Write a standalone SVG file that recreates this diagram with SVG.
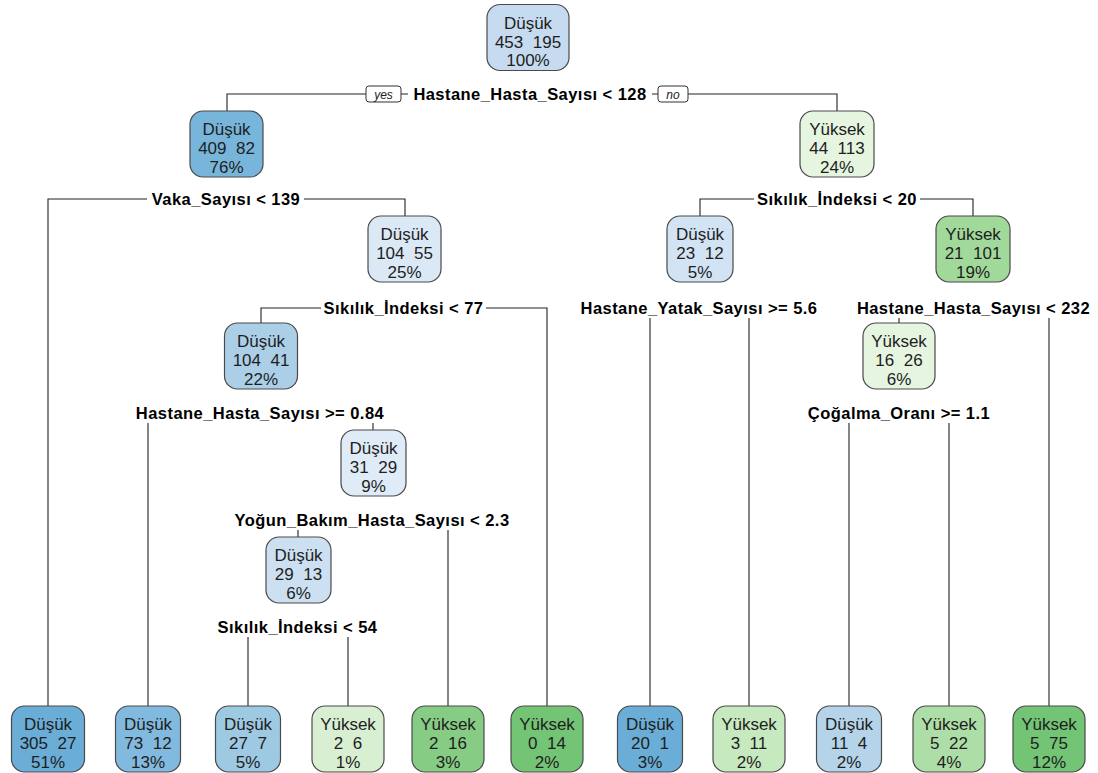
<svg xmlns="http://www.w3.org/2000/svg" width="1098" height="773" viewBox="0 0 1098 773">
<style>
.bg{fill:#ffffff}
.box{stroke:#4a4a4a;stroke-width:1.2}
.nt{font-family:"Liberation Sans",Arial,sans-serif;font-size:17px;fill:#1e1e1e;text-anchor:middle;white-space:pre}
.sl{font-family:"Liberation Sans",Arial,sans-serif;font-size:16.5px;letter-spacing:0.45px;font-weight:bold;fill:#000;text-anchor:middle}
.yn{font-family:"Liberation Sans",Arial,sans-serif;font-size:12px;font-style:italic;fill:#222;text-anchor:middle}
.ynb{fill:#fff;stroke:#333;stroke-width:1}
.c{fill:none;stroke:#222;stroke-width:1.1}
</style>
<rect class="bg" x="0" y="0" width="1098" height="773"/>
<g id="connectors">
<path class="c" d="M227,111 V94 H366 M401,94 H408 M652,94 H658 M688,94 H837 V111"/>
<path class="c" d="M48,706 V199 H147 M304,199 H405 V216"/>
<path class="c" d="M700,216 V199 H754 M920,199 H973 V216"/>
<path class="c" d="M261,323 V308 H321 M486,308 H547 V706"/>
<path class="c" d="M650,318 V706 M749,318 V706"/>
<path class="c" d="M899,318 V323 M1049,318 V706"/>
<path class="c" d="M148,423 V706 M373,423 V430"/>
<path class="c" d="M849,423 V706 M949,423 V706"/>
<path class="c" d="M298,530 V537 M448,530 V706"/>
<path class="c" d="M248,637 V706 M348,637 V706"/>
</g>
<g id="split-labels">
<g id="s1"><rect class="ynb" x="366" y="86" width="35" height="16" rx="3"/><text class="yn" x="383.5" y="98.5">yes</text>
<text class="sl" x="530" y="100">Hastane_Hasta_Sayısı &lt; 128</text>
<rect class="ynb" x="658" y="86" width="30" height="16" rx="3"/><text class="yn" x="673" y="98.5">no</text></g>
<text id="s2" class="sl" x="226" y="205">Vaka_Sayısı &lt; 139</text>
<text id="s3" class="sl" x="837" y="205">Sıkılık_İndeksi &lt; 20</text>
<text id="s5" class="sl" x="403.5" y="314">Sıkılık_İndeksi &lt; 77</text>
<text id="s6" class="sl" x="699" y="314">Hastane_Yatak_Sayısı &gt;= 5.6</text>
<text id="s7" class="sl" x="973.5" y="314">Hastane_Hasta_Sayısı &lt; 232</text>
<text id="s10" class="sl" x="260" y="419">Hastane_Hasta_Sayısı &gt;= 0.84</text>
<text id="s14" class="sl" x="899" y="419">Çoğalma_Oranı &gt;= 1.1</text>
<text id="s21" class="sl" x="372" y="526">Yoğun_Bakım_Hasta_Sayısı &lt; 2.3</text>
<text id="s42" class="sl" x="297.5" y="633">Sıkılık_İndeksi &lt; 54</text>
</g>
<g id="n1"><rect class="box" x="487" y="4.5" width="82" height="66" rx="13" fill="#c6dbef"/><text class="nt" x="528" y="28.5">Düşük</text><text class="nt" x="528" y="47.5">453  195</text><text class="nt" x="528" y="66">100%</text></g>
<g id="n2"><rect class="box" x="190" y="111" width="73" height="66" rx="13" fill="#78b5db"/><text class="nt" x="226.5" y="134.5">Düşük</text><text class="nt" x="226.5" y="153.5">409  82</text><text class="nt" x="226.5" y="172.5">76%</text></g>
<g id="n3"><rect class="box" x="800" y="111" width="74" height="66" rx="13" fill="#e5f5e0"/><text class="nt" x="837" y="134.5">Yüksek</text><text class="nt" x="837" y="153.5">44  113</text><text class="nt" x="837" y="172.5">24%</text></g>
<g id="n5"><rect class="box" x="368" y="216" width="73" height="66" rx="13" fill="#dbe9f6"/><text class="nt" x="404.5" y="239.5">Düşük</text><text class="nt" x="404.5" y="258.5">104  55</text><text class="nt" x="404.5" y="277.5">25%</text></g>
<g id="n6"><rect class="box" x="667" y="216" width="66" height="66" rx="13" fill="#d2e3f3"/><text class="nt" x="700" y="239.5">Düşük</text><text class="nt" x="700" y="258.5">23  12</text><text class="nt" x="700" y="277.5">5%</text></g>
<g id="n7"><rect class="box" x="936" y="216" width="74" height="66" rx="13" fill="#a1d99b"/><text class="nt" x="973" y="239.5">Yüksek</text><text class="nt" x="973" y="258.5">21  101</text><text class="nt" x="973" y="277.5">19%</text></g>
<g id="n10"><rect class="box" x="224.5" y="323" width="73" height="66" rx="13" fill="#abcfe6"/><text class="nt" x="261" y="346.5">Düşük</text><text class="nt" x="261" y="365.5">104  41</text><text class="nt" x="261" y="384.5">22%</text></g>
<g id="n14"><rect class="box" x="863" y="323" width="72" height="66" rx="13" fill="#e5f5e0"/><text class="nt" x="899" y="346.5">Yüksek</text><text class="nt" x="899" y="365.5">16  26</text><text class="nt" x="899" y="384.5">6%</text></g>
<g id="n21"><rect class="box" x="341" y="430" width="65" height="66" rx="13" fill="#dfebf7"/><text class="nt" x="373.5" y="453.5">Düşük</text><text class="nt" x="373.5" y="472.5">31  29</text><text class="nt" x="373.5" y="491.5">9%</text></g>
<g id="n42"><rect class="box" x="266" y="537" width="65" height="66" rx="13" fill="#cde0f1"/><text class="nt" x="298.5" y="560.5">Düşük</text><text class="nt" x="298.5" y="579.5">29  13</text><text class="nt" x="298.5" y="598.5">6%</text></g>
<g id="l1"><rect class="box" x="11.5" y="706" width="73" height="66" rx="13" fill="#6aadd6"/><text class="nt" x="48" y="729.5">Düşük</text><text class="nt" x="48" y="748.5">305  27</text><text class="nt" x="48" y="767.5">51%</text></g>
<g id="l2"><rect class="box" x="115.5" y="706" width="65" height="66" rx="13" fill="#82badf"/><text class="nt" x="148" y="729.5">Düşük</text><text class="nt" x="148" y="748.5">73  12</text><text class="nt" x="148" y="767.5">13%</text></g>
<g id="l3"><rect class="box" x="215.5" y="706" width="65" height="66" rx="13" fill="#9dc9e2"/><text class="nt" x="248" y="729.5">Düşük</text><text class="nt" x="248" y="748.5">27  7</text><text class="nt" x="248" y="767.5">5%</text></g>
<g id="l4"><rect class="box" x="312" y="706" width="72" height="66" rx="13" fill="#d8efd2"/><text class="nt" x="348" y="729.5">Yüksek</text><text class="nt" x="348" y="748.5">2  6</text><text class="nt" x="348" y="767.5">1%</text></g>
<g id="l5"><rect class="box" x="412" y="706" width="72" height="66" rx="13" fill="#86cc85"/><text class="nt" x="448" y="729.5">Yüksek</text><text class="nt" x="448" y="748.5">2  16</text><text class="nt" x="448" y="767.5">3%</text></g>
<g id="l6"><rect class="box" x="511" y="706" width="72" height="66" rx="13" fill="#74c476"/><text class="nt" x="547" y="729.5">Yüksek</text><text class="nt" x="547" y="748.5">0  14</text><text class="nt" x="547" y="767.5">2%</text></g>
<g id="l7"><rect class="box" x="617.5" y="706" width="65" height="66" rx="13" fill="#6aadd6"/><text class="nt" x="650" y="729.5">Düşük</text><text class="nt" x="650" y="748.5">20  1</text><text class="nt" x="650" y="767.5">3%</text></g>
<g id="l8"><rect class="box" x="713" y="706" width="72" height="66" rx="13" fill="#c7e9c0"/><text class="nt" x="749" y="729.5">Yüksek</text><text class="nt" x="749" y="748.5">3  11</text><text class="nt" x="749" y="767.5">2%</text></g>
<g id="l9"><rect class="box" x="816.5" y="706" width="65" height="66" rx="13" fill="#b5d4ea"/><text class="nt" x="849" y="729.5">Düşük</text><text class="nt" x="849" y="748.5">11  4</text><text class="nt" x="849" y="767.5">2%</text></g>
<g id="l10"><rect class="box" x="913" y="706" width="72" height="66" rx="13" fill="#aedea7"/><text class="nt" x="949" y="729.5">Yüksek</text><text class="nt" x="949" y="748.5">5  22</text><text class="nt" x="949" y="767.5">4%</text></g>
<g id="l11"><rect class="box" x="1013" y="706" width="72" height="66" rx="13" fill="#74c476"/><text class="nt" x="1049" y="729.5">Yüksek</text><text class="nt" x="1049" y="748.5">5  75</text><text class="nt" x="1049" y="767.5">12%</text></g>
</svg>
